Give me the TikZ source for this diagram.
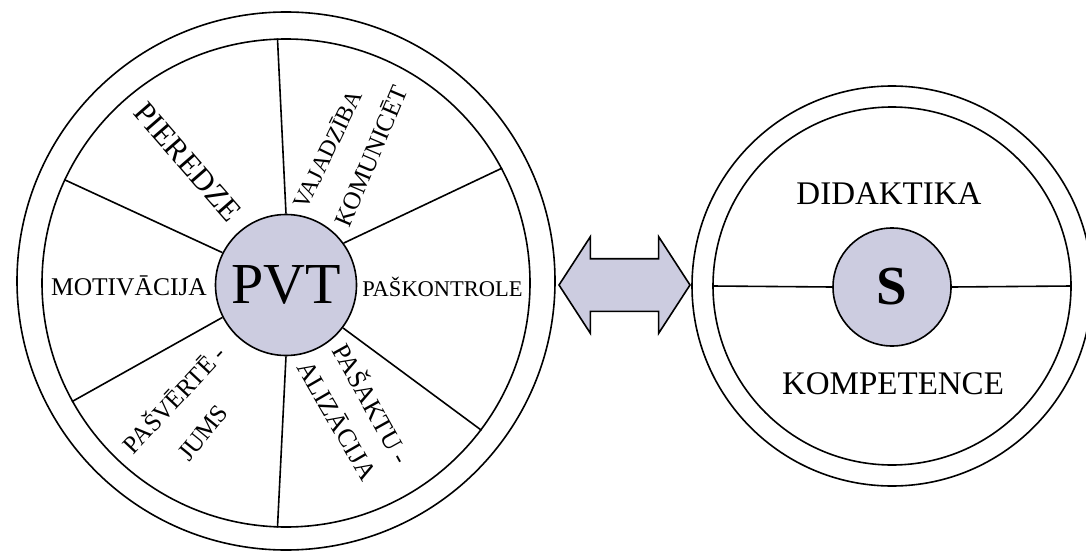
\documentclass[tikz,border=0pt]{standalone}
\usepackage{fontspec}
\setmainfont{Liberation Serif}
\usepackage{xcolor}
\definecolor{hublilac}{RGB}{204,204,224}
\usetikzlibrary{shapes.arrows}
\newcommand{\fsz}[1]{\fontsize{#1}{#1}\selectfont}
\tikzset{
  ring/.style  ={circle, draw, line width=1.6pt, inner sep=0pt},
  hub/.style   ={ring, fill=hublilac},
  spoke/.style ={line width=1.6pt},
  lbl/.style   ={inner sep=0pt, font=\fsz{25}},
  twoway/.style={double arrow, draw, line width=1.6pt, fill=hublilac,
                 inner xsep=0pt, inner ysep=25.5pt,
                 double arrow head extend=22pt, double arrow tip angle=114,
                 double arrow head indent=0pt},
}

\begin{document}
\begin{tikzpicture}[x=1pt, y=1pt]
  \useasboundingbox (0,0) rectangle (1086,550);
  % left wheel
  \node[ring, minimum size=538] (pvtouter) at (286,269) {};
  \node[ring, minimum size=488] (pvtinner) at (286,267) {};
  \node[hub, minimum size=141, font=\fsz{58}] (pvt) at (286,265) {PVT};
  \foreach \a/\b in {90/92, 36/28, -37/-37, -90/-92, 207/209, 153/155}
    \draw[spoke] (pvt.\a) -- (pvtinner.\b);
  \node[lbl, font=\fsz{31}, rotate=-49] (pieredze) at (188,388) {PIEREDZE};
  \node[lbl, font=\fsz{23.5}, rotate=64] (vajadziba) at (327,401) {VAJADZĪBA};
  \node[lbl, rotate=67] (komunicet) at (370,394) {KOMUNICĒT};
  \node[lbl, font=\fsz{25.5}] (motivacija) at (129,264) {MOTIVĀCIJA};
  \node[lbl, font=\fsz{22.5}] (paskontrole) at (442.5,263) {PAŠKONTROLE};
  \node[lbl, rotate=47] (pasverte) at (173,152) {PAŠVĒRTĒ -};
  \node[lbl, rotate=51] (jums) at (203,117) {JUMS};
  \node[lbl, font=\fsz{26}, rotate=-61] (pasaktu) at (373,147) {PAŠAKTU -};
  \node[lbl, font=\fsz{26}, rotate=-60] (alizacija) at (338,130) {ALIZĀCIJA};
  % link
  \node[twoway, minimum height=131] (link) at (624.5,265) {};
  % right wheel
  \node[ring, minimum size=400] (skouter) at (892,264) {};
  \node[ring, minimum size=358] (skinner) at (892,264) {};
  \node[hub, minimum size=118, font=\bfseries\fsz{55}] (s) at (892,263) {S};
  \draw[spoke] (skinner.west) -- (s.west);
  \draw[spoke] (s.east) -- (skinner.east);
  \node[lbl, font=\fsz{33}] (didaktika) at (889,356) {DIDAKTIKA};
  \node[lbl, font=\fsz{33}] (kompetence) at (893,166) {KOMPETENCE};
\end{tikzpicture}
\end{document}
